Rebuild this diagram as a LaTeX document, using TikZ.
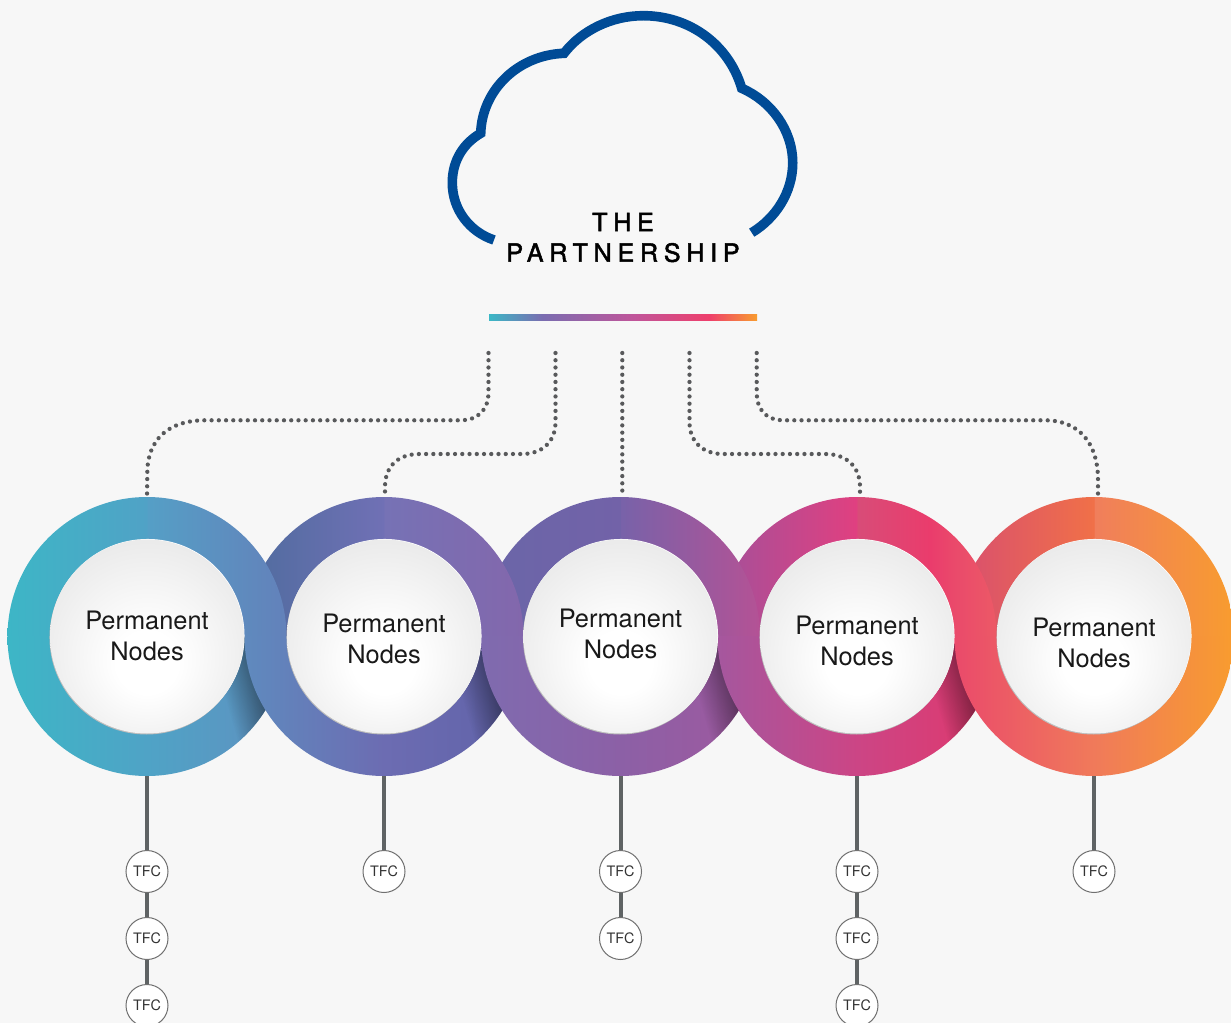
\documentclass[tikz,border=0pt]{standalone}
\usepackage{xcolor}
\usepackage{fontspec}
\usetikzlibrary{fadings}
\setmainfont{TeX Gyre Heros}
\newfontfamily\cloudfont[LetterSpace=23,FakeBold=2]{TeX Gyre Heros}

\definecolor{pagegray}{HTML}{F7F7F7}
\definecolor{cloudblue}{HTML}{004B96}
\definecolor{stemgray}{HTML}{5F6364}
\definecolor{dotgray}{HTML}{58595B}
\definecolor{tfcedge}{HTML}{707070}
\definecolor{rimgray}{HTML}{BDBDBD}
\definecolor{discgray}{HTML}{E6E6E6}

\definecolor{barA}{HTML}{3BB8C6}
\definecolor{barB}{HTML}{7A6CB0}
\definecolor{barC}{HTML}{C0559A}
\definecolor{barD}{HTML}{EE3F6C}
\definecolor{barE}{HTML}{F89C2F}

\newcommand{\ringshading}[5]{%
  \definecolor{#1a}{HTML}{#2}\definecolor{#1b}{HTML}{#3}%
  \definecolor{#1c}{HTML}{#4}\definecolor{#1d}{HTML}{#5}%
  \pgfdeclarehorizontalshading{#1}{100bp}{color(0bp)=(#1a); color(25bp)=(#1a);
    color(50bp)=(#1b); color(50.05bp)=(#1c); color(75bp)=(#1d); color(100bp)=(#1d)}}

\ringshading{ringtopA}{3DB6C6}{50A2C6}{559FC6}{6381BA}
\ringshading{ringtopB}{4F6C9E}{7070B5}{7672B5}{8367AC}
\ringshading{ringtopC}{6A66A8}{7262A8}{7862A9}{B45295}
\ringshading{ringtopE}{D84E70}{F07048}{F07E5C}{F89C2F}
\ringshading{ringlowA}{3DB6C6}{4FA3C6}{4FA3C6}{6090C0}
\ringshading{ringlowB}{5F8ABE}{6C6CB2}{6C6CB2}{6062A8}
\ringshading{ringlowC}{7F6BAF}{8C60A6}{8C60A6}{A0589E}
\ringshading{ringlowD}{A5579E}{CC4585}{CC4585}{E0386C}
\ringshading{ringlowE}{EA4A6B}{F07A5A}{F07A5A}{F89C2F}

\definecolor{ringtopDa}{HTML}{A4509A}
\definecolor{ringtopDb}{HTML}{E04080}
\definecolor{ringtopDc}{HTML}{D84C78}
\definecolor{ringtopDm}{HTML}{EA3C6C}
\definecolor{ringtopDn}{HTML}{EA4A6B}
\definecolor{ringtopDd}{HTML}{EC5966}
\pgfdeclarehorizontalshading{ringtopD}{100bp}{color(0bp)=(ringtopDa); color(25bp)=(ringtopDa);
  color(50bp)=(ringtopDb); color(50.05bp)=(ringtopDc); color(63.1bp)=(ringtopDm);
  color(67.6bp)=(ringtopDn); color(75bp)=(ringtopDd); color(100bp)=(ringtopDd)}

\pgfdeclarehorizontalshading{barshade}{100bp}{color(0bp)=(barA); color(25bp)=(barA);
  color(35bp)=(barB); color(52bp)=(barC); color(66bp)=(barD); color(75bp)=(barE); color(100bp)=(barE)}
\pgfdeclareradialshading{discshade}{\pgfpoint{0bp}{-8bp}}{color(0bp)=(white); color(8bp)=(white);
  color(33bp)=(discgray); color(50bp)=(discgray)}

\tikzset{
  ringdisc/.style={circle,minimum size=209.25pt,inner sep=0pt,outer sep=0pt},
  innerdisc/.style={circle,minimum size=145.5pt,inner sep=0pt,outer sep=0pt,
    preaction={fill=rimgray,transform canvas={xshift=-0.4pt,yshift=-0.75pt}},
    preaction={fill=white,transform canvas={xshift=0.4pt,yshift=0.4pt}},
    shading=discshade},
  permtext/.style={align=center,font=\fontsize{19.05pt}{23.25pt}\selectfont,text=black!90},
  tfcnode/.style={circle,draw=tfcedge,line width=0.75pt,fill=white,minimum size=31.5pt,inner sep=0pt,
    font=\fontsize{10.8pt}{12pt}\selectfont,text=black!80},
  stem/.style={draw=stemgray,line width=3pt},
  dotline/.style={draw=dotgray,line width=3.2pt,line cap=round,dash pattern=on 0pt off 5.43pt},
  undershadow/.style={fill=black,fill opacity=0.65,path fading=west}
}

\begin{document}
\begin{tikzpicture}[x=0.75pt,y=0.75pt,yscale=-1,xscale=1]

\clip[use as bounding box] (0,0) rectangle (1231,1023);
\fill[pagegray] (0,0) rectangle (1231,1023);

% cloud
\draw[cloudblue,line width=7.2pt] (494,240) .. controls (470,232) and (452.3,210) .. (452.3,182.7)
  .. controls (452.3,160) and (464,143) .. (480.7,133.3)
  .. controls (482,90) and (518,55) .. (564,53.3)
  .. controls (582,30) and (612,15.7) .. (643.3,15.7)
  .. controls (690,15.7) and (729,45) .. (741.7,88.3)
  .. controls (771,101) and (792.7,130) .. (792.7,163)
  .. controls (792.7,192) and (776,218) .. (751.7,232.7);

\node[font=\cloudfont\fontsize{18.8pt}{23pt}\selectfont,align=center,text=black] (title) at (623,237.5) {THE\\PARTNERSHIP};

\node[shading=barshade,minimum width=201pt,minimum height=4.5pt,inner sep=0pt,outer sep=0pt] (bar) at (623,318) {};

% upper halves, right to left
\begin{scope}
\clip (0,0) rectangle (1231,636.6);
\node[ringdisc,shading=ringtopE] (ring5) at (1094,636.5) {};
\node[ringdisc,shading=ringtopD] (ring4) at (857,636.5) {};
\node[ringdisc,shading=ringtopC] (ring3) at (620.5,636.5) {};
\node[ringdisc,shading=ringtopB] (ring2) at (384,636.5) {};
\node[ringdisc,shading=ringtopA] (ring1) at (147,636.5) {};
\end{scope}

% lower halves, left to right
\begin{scope}
\clip (0,636.4) rectangle (1231,1023);

\node[ringdisc,shading=ringlowA] (low1) at (147,636.5) {};
\begin{scope}
\clip (147,636.5) circle (139.5);
\fill[undershadow,transform canvas={shift={(low1.center)},rotate=16}] (58,-140) rectangle (115,140);
\end{scope}

\node[ringdisc,shading=ringlowB] (low2) at (384,636.5) {};
\begin{scope}
\clip (384,636.5) circle (139.5);
\fill[undershadow,transform canvas={shift={(low2.center)},rotate=16}] (58,-140) rectangle (115,140);
\end{scope}

\node[ringdisc,shading=ringlowC] (low3) at (620.5,636.5) {};
\begin{scope}
\clip (620.5,636.5) circle (139.5);
\fill[undershadow,transform canvas={shift={(low3.center)},rotate=16}] (58,-140) rectangle (115,140);
\end{scope}

\node[ringdisc,shading=ringlowD] (low4) at (857,636.5) {};
\begin{scope}
\clip (857,636.5) circle (139.5);
\fill[undershadow,transform canvas={shift={(low4.center)},rotate=16}] (58,-140) rectangle (115,140);
\end{scope}

\node[ringdisc,shading=ringlowE] (low5) at (1094,636.5) {};
\end{scope}

\node[innerdisc] (disc1) at (147,636.5) {};
\node[innerdisc] (disc2) at (384,636.5) {};
\node[innerdisc] (disc3) at (620.5,636.5) {};
\node[innerdisc] (disc4) at (857,636.5) {};
\node[innerdisc] (disc5) at (1094,636.5) {};

\node[permtext] (perm1) at (147,635.5) {Permanent\\Nodes};
\node[permtext] (perm2) at (384,639) {Permanent\\Nodes};
\node[permtext] (perm3) at (620.5,634) {Permanent\\Nodes};
\node[permtext] (perm4) at (857,641) {Permanent\\Nodes};
\node[permtext] (perm5) at (1094,642.5) {Permanent\\Nodes};

% dotted feeds from under the bar
\coordinate (feed1) at (488.5,353);
\coordinate (feed2) at (555.5,353);
\coordinate (feed3) at (622.3,353);
\coordinate (feed4) at (689.5,353);
\coordinate (feed5) at (756.7,353);

\draw[dotline] (feed1) -- (488.5,392) .. controls (488.5,410) and (478,420.3) .. (460,420.3) -- (205,420.3)
  .. controls (168,420.3) and (147.3,440) .. (147.3,473) -- (ring1.north);

\draw[dotline] (feed2) -- (555.5,422) .. controls (555.5,442) and (542,454) .. (522,454) -- (420,454)
  .. controls (396,454) and (385,468) .. (385,487) -- ([xshift=0.75pt]ring2.north);

\draw[dotline] (feed3) -- ([xshift=1.35pt]ring3.north);

\draw[dotline] (feed4) -- (689.5,422) .. controls (689.5,442) and (703,454) .. (723,454) -- (825,454)
  .. controls (848,454) and (860,468) .. (860,487) -- ([xshift=2.25pt]ring4.north);

\draw[dotline] (feed5) -- (756.7,392) .. controls (756.7,410) and (766,420.3) .. (784,420.3) -- (1045,420.3)
  .. controls (1078,420.3) and (1098,442) .. (1098,480) -- ([xshift=3pt]ring5.north);

% stems and TFC
\node[tfcnode] (tfc11) at (147,871.5) {TFC};
\node[tfcnode] (tfc12) at (147,938.5) {TFC};
\node[tfcnode] (tfc13) at (147,1005.5) {TFC};
\node[tfcnode] (tfc21) at (384,871.5) {TFC};
\node[tfcnode] (tfc31) at (620.5,871.5) {TFC};
\node[tfcnode] (tfc32) at (620.5,938.5) {TFC};
\node[tfcnode] (tfc41) at (857,871.5) {TFC};
\node[tfcnode] (tfc42) at (857,938.5) {TFC};
\node[tfcnode] (tfc43) at (857,1005.5) {TFC};
\node[tfcnode] (tfc51) at (1094,871.5) {TFC};

\draw[stem] (low1.south) -- (tfc11);
\draw[stem] (tfc11) -- (tfc12);
\draw[stem] (tfc12) -- (tfc13);
\draw[stem] (low2.south) -- (tfc21);
\draw[stem] (low3.south) -- (tfc31);
\draw[stem] (tfc31) -- (tfc32);
\draw[stem] (low4.south) -- (tfc41);
\draw[stem] (tfc41) -- (tfc42);
\draw[stem] (tfc42) -- (tfc43);
\draw[stem] (low5.south) -- (tfc51);

\end{tikzpicture}
\end{document}
